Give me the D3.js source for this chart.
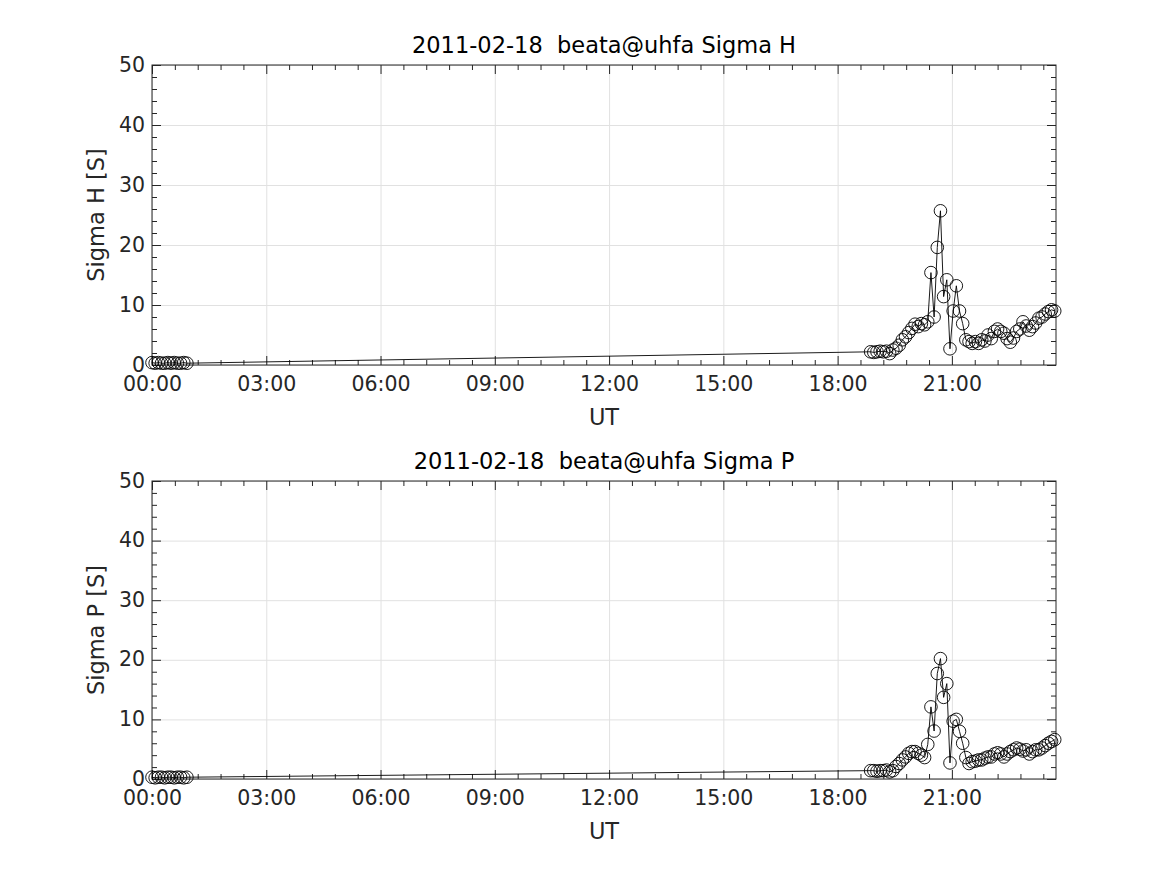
<!DOCTYPE html>
<html>
<head>
<meta charset="utf-8">
<script src="https://cdn.jsdelivr.net/npm/d3@7"></script>
<style>
  html, body { margin: 0; padding: 0; background: #ffffff; }
  svg { display: block; }
  text { font-family: "DejaVu Sans", sans-serif; white-space: pre; }
</style>
</head>
<body>
<svg id="chart" width="1167" height="875"></svg>
<script>
// ---- data ----
const times = [
  "00:00","00:05","00:10","00:15","00:20","00:25","00:30","00:35","00:40","00:45","00:50","00:55",
  "18:52","18:57","19:02","19:07","19:12","19:17","19:22","19:27","19:32","19:37","19:42","19:47",
  "19:52","19:57","20:02","20:07","20:12","20:17","20:22","20:27","20:32","20:37","20:42","20:47",
  "20:52","20:57","21:02","21:07","21:12","21:17","21:22","21:27","21:32","21:37","21:42","21:47",
  "21:52","21:57","22:02","22:07","22:12","22:17","22:22","22:27","22:32","22:37","22:42","22:47",
  "22:52","22:57","23:02","23:07","23:12","23:17","23:22","23:27","23:32","23:37","23:42"
];
const sigmaH = [
  0.4,0.3,0.4,0.3,0.3,0.4,0.3,0.4,0.3,0.3,0.4,0.3,
  2.2,2.1,2.2,2.3,2.2,2.3,1.9,2.5,
  2.8,3.3,4.2,4.7,5.4,6.1,6.8,6.4,6.9,6.7,7.2,
  15.4,8.0,19.6,25.7,11.4,14.2,2.7,9.0,13.2,9.0,6.9,4.2,
  3.9,3.6,3.9,3.6,4.2,4.0,5.0,4.4,5.6,6.0,5.6,5.3,4.4,3.8,4.5,5.6,6.0,7.2,6.5,5.8,6.4,7.0,7.8,8.0,8.5,8.9,9.2,9.0
];
const sigmaP = [
  0.3,0.2,0.3,0.3,0.2,0.3,0.3,0.2,0.3,0.3,0.2,0.3,
  1.4,1.4,1.3,1.4,1.4,1.5,1.2,1.4,
  2.1,2.6,3.2,3.7,4.3,4.6,4.6,4.3,4.0,3.6,5.8,
  12.1,8.05,17.7,20.2,13.7,16.0,2.7,9.7,10.0,8.0,6.0,3.6,
  2.6,2.9,3.0,3.2,3.2,3.5,3.7,3.7,4.2,4.4,4.2,3.7,4.2,4.6,4.9,5.2,5.0,4.7,4.9,4.2,4.6,4.9,4.9,5.2,5.6,6.0,6.3,6.6
];
const xTickLabels = ["00:00","03:00","06:00","09:00","12:00","15:00","18:00","21:00"];
const xEnd = "23:44";
const yTicks = [0,10,20,30,40,50];
const panels = [
  { title: "2011-02-18  beata@uhfa Sigma H", ylabel: "Sigma H [S]", values: sigmaH },
  { title: "2011-02-18  beata@uhfa Sigma P", ylabel: "Sigma P [S]", values: sigmaP }
];

// ---- helpers ----
const toMin = s => { const [h, m] = s.split(":").map(Number); return h * 60 + m; };

const svg = d3.select("#chart");
const left = 152, right = 1056;
const boxes = [ { top: 65, bottom: 365 }, { top: 481, bottom: 779 } ];
const axisColor = "#262626";
const gridColor = "#e1e1e1";
const tickFont = 20.5, labelFont = 22.5;

panels.forEach((p, k) => {
  const b = boxes[k];
  const x = d3.scaleLinear().domain([0, toMin(xEnd)]).range([left, right]);
  const y = d3.scaleLinear().domain([0, 50]).range([b.bottom, b.top]);
  const h = b.bottom - b.top, w = right - left;
  const g = svg.append("g");

  const xMajor = xTickLabels.map(toMin);
  const xMinor = d3.range(0, toMin(xEnd) + 0.1, 36).filter(v => !xMajor.includes(v));
  const yMinor = d3.range(0, 50.01, 2).filter(v => !yTicks.includes(v));

  // grid
  g.append("g").attr("transform", `translate(0,${b.bottom})`)
    .call(d3.axisBottom(x).tickValues(xMajor).tickSize(-h).tickFormat(""))
    .call(s => s.select(".domain").remove())
    .selectAll("line").attr("stroke", gridColor).attr("stroke-width", 1);
  g.append("g").attr("transform", `translate(${left},0)`)
    .call(d3.axisLeft(y).tickValues(yTicks).tickSize(-w).tickFormat(""))
    .call(s => s.select(".domain").remove())
    .selectAll("line").attr("stroke", gridColor).attr("stroke-width", 1);

  // ticks (inward) on all four sides
  const mk = (axis, tr, vals, size, fmt, pad) => {
    const a = g.append("g").attr("transform", tr)
      .call(axis.tickValues(vals).tickSize(size).tickPadding(pad || 3).tickFormat(fmt || ""));
    a.select(".domain").remove();
    a.selectAll("line").attr("stroke", axisColor).attr("stroke-width", 1);
    return a;
  };
  const xb = mk(d3.axisBottom(x), `translate(0,${b.bottom})`, xMajor, -9,
    (d, i) => xTickLabels[i], 11);
  xb.selectAll("text").attr("fill", axisColor).attr("font-size", tickFont)
    .attr("font-family", "DejaVu Sans, sans-serif");
  mk(d3.axisBottom(x), `translate(0,${b.bottom})`, xMinor, -5);
  mk(d3.axisTop(x), `translate(0,${b.top})`, xMajor, -9);
  mk(d3.axisTop(x), `translate(0,${b.top})`, xMinor, -5);
  const yl = mk(d3.axisLeft(y), `translate(${left},0)`, yTicks, -9, d => d, 7);
  yl.selectAll("text").attr("fill", axisColor).attr("font-size", tickFont)
    .attr("font-family", "DejaVu Sans, sans-serif").attr("dy", "0.3em");
  mk(d3.axisLeft(y), `translate(${left},0)`, yMinor, -5);
  mk(d3.axisRight(y), `translate(${right},0)`, yTicks, -9);
  mk(d3.axisRight(y), `translate(${right},0)`, yMinor, -5);

  // box
  g.append("rect").attr("x", left).attr("y", b.top).attr("width", w).attr("height", h)
    .attr("fill", "none").attr("stroke", axisColor).attr("stroke-width", 1);

  // data
  const pts = times.map((t, i) => ({ t: toMin(t), v: p.values[i] }));
  g.append("path").datum(pts)
    .attr("d", d3.line().x(d => x(d.t)).y(d => y(d.v)))
    .attr("fill", "none").attr("stroke", "#000").attr("stroke-width", 0.9);
  g.append("g").selectAll("circle").data(pts).join("circle")
    .attr("cx", d => x(d.t)).attr("cy", d => y(d.v)).attr("r", 6.3)
    .attr("fill", "none").attr("stroke", "#000").attr("stroke-width", 0.9);

  // texts
  g.append("text").attr("x", (left + right) / 2).attr("y", b.top - 12)
    .attr("text-anchor", "middle").attr("font-size", labelFont).attr("fill", "#000")
    .attr("xml:space", "preserve")
    .text(p.title);
  g.append("text").attr("x", (left + right) / 2).attr("y", b.bottom + 60)
    .attr("text-anchor", "middle").attr("font-size", labelFont).attr("fill", axisColor)
    .text("UT");
  g.append("text").attr("transform", `translate(104,${(b.top + b.bottom) / 2}) rotate(-90)`)
    .attr("text-anchor", "middle").attr("font-size", labelFont).attr("fill", axisColor)
    .text(p.ylabel);
});
</script>
</body>
</html>
